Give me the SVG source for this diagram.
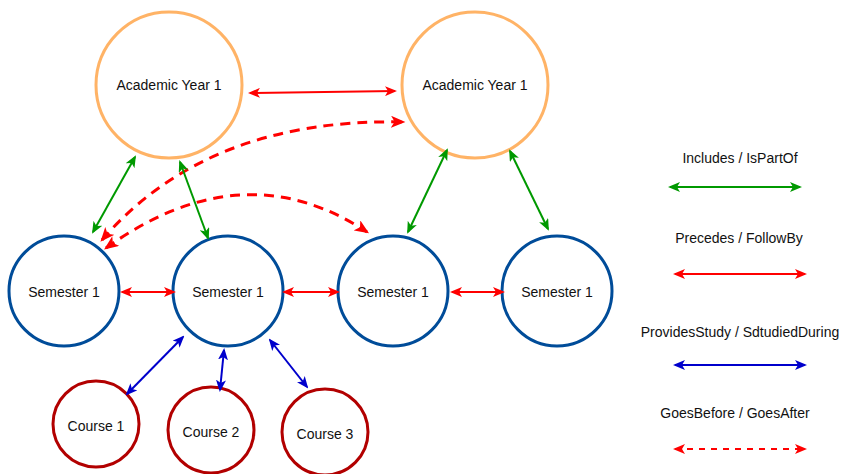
<svg xmlns="http://www.w3.org/2000/svg" width="844" height="474" viewBox="0 0 844 474">
<style>
text{font-family:"Liberation Sans",Arial,sans-serif;font-size:14px;fill:#111;text-anchor:middle}
.ay{fill:#fff;stroke:#FFB366;stroke-width:3}
.sem{fill:#fff;stroke:#004C99;stroke-width:3}
.crs{fill:#fff;stroke:#B20000;stroke-width:3}
.g{stroke:#009900;stroke-width:2;fill:none;marker-start:url(#ag);marker-end:url(#ag)}
.r{stroke:#FF0000;stroke-width:2;fill:none;marker-start:url(#ar);marker-end:url(#ar)}
.b{stroke:#0000CC;stroke-width:2;fill:none;marker-start:url(#ab);marker-end:url(#ab)}
.d{stroke:#FF0000;stroke-width:3;fill:none;stroke-dasharray:10 7;marker-start:url(#ad);marker-end:url(#ad)}
.dl{stroke:#FF0000;stroke-width:2;fill:none;stroke-dasharray:6 6;marker-start:url(#ar);marker-end:url(#ar)}
</style>
<defs>
<marker id="ag" viewBox="0 0 12 10" refX="10" refY="5" markerWidth="12" markerHeight="10" markerUnits="userSpaceOnUse" orient="auto-start-reverse"><path d="M0,0 L12,5 L0,10 L3,5 z" fill="#009900"/></marker>
<marker id="ar" viewBox="0 0 12 10" refX="10" refY="5" markerWidth="12" markerHeight="10" markerUnits="userSpaceOnUse" orient="auto-start-reverse"><path d="M0,0 L12,5 L0,10 L3,5 z" fill="#FF0000"/></marker>
<marker id="ab" viewBox="0 0 12 10" refX="10" refY="5" markerWidth="12" markerHeight="10" markerUnits="userSpaceOnUse" orient="auto-start-reverse"><path d="M0,0 L12,5 L0,10 L3,5 z" fill="#0000CC"/></marker>
<marker id="ad" viewBox="0 0 12 10" refX="10" refY="5" markerWidth="15" markerHeight="12" markerUnits="userSpaceOnUse" orient="auto-start-reverse"><path d="M0,0 L12,5 L0,10 L3,5 z" fill="#FF0000"/></marker>
</defs>

<g id="ay1"><circle class="ay" cx="169" cy="85" r="73"/><text x="169" y="90">Academic Year 1</text></g>
<g id="ay2"><circle class="ay" cx="475" cy="85" r="73"/><text x="475" y="90">Academic Year 1</text></g>
<g id="sem1"><circle class="sem" cx="64" cy="291" r="55"/><text x="64" y="297">Semester 1</text></g>
<g id="sem2"><circle class="sem" cx="228" cy="291" r="55"/><text x="228" y="297">Semester 1</text></g>
<g id="sem3"><circle class="sem" cx="393" cy="291" r="55"/><text x="393" y="297">Semester 1</text></g>
<g id="sem4"><circle class="sem" cx="557" cy="291" r="55"/><text x="557" y="297">Semester 1</text></g>
<g id="c1"><circle class="crs" cx="96" cy="424" r="43"/><text x="96" y="431">Course 1</text></g>
<g id="c2"><circle class="crs" cx="211" cy="430" r="43"/><text x="211" y="437">Course 2</text></g>
<g id="c3"><circle class="crs" cx="325" cy="432" r="43"/><text x="325" y="439">Course 3</text></g>

<g id="connectors">
<line class="r" x1="250" y1="93" x2="395" y2="91"/>
<path class="d" d="M102,240 Q207,118 403,122"/>
<path class="d" d="M106,248 Q243,150 367,232"/>
<line class="g" x1="135" y1="157" x2="93" y2="232"/>
<line class="g" x1="180" y1="162" x2="208" y2="238"/>
<line class="g" x1="447" y1="150" x2="408" y2="232"/>
<line class="g" x1="510" y1="151" x2="548" y2="229"/>
<line class="r" x1="122" y1="292" x2="174" y2="292"/>
<line class="r" x1="284" y1="292" x2="338" y2="292"/>
<line class="r" x1="452" y1="292" x2="503" y2="292"/>
<line class="b" x1="127" y1="394" x2="183" y2="337"/>
<line class="b" x1="224" y1="350" x2="220" y2="390"/>
<line class="b" x1="270" y1="340" x2="307" y2="387"/>
</g>

<g id="legend">
<text x="740" y="163">Includes / IsPartOf</text>
<line class="g" x1="670" y1="187" x2="800" y2="187"/>
<text x="739" y="243">Precedes / FollowBy</text>
<line class="r" x1="675" y1="274" x2="805" y2="274"/>
<text x="740" y="337">ProvidesStudy / SdtudiedDuring</text>
<line class="b" x1="675" y1="365" x2="805" y2="365"/>
<text x="735" y="418">GoesBefore / GoesAfter</text>
<line class="dl" x1="675" y1="449" x2="805" y2="449"/>
</g>
</svg>
